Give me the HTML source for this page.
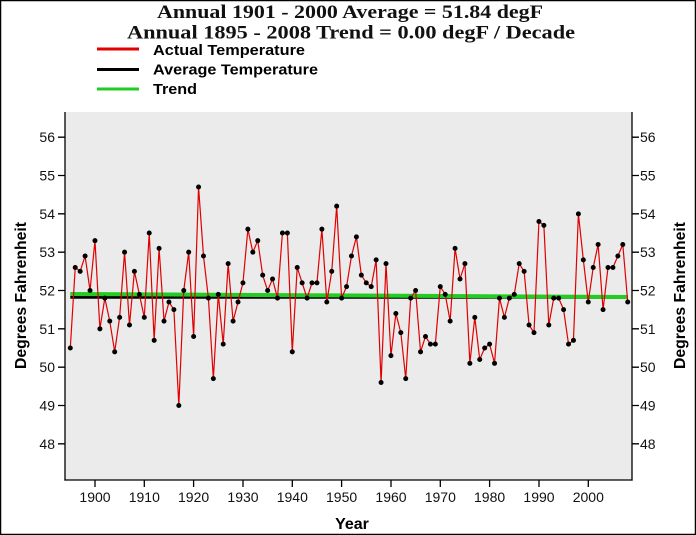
<!DOCTYPE html>
<html>
<head>
<meta charset="utf-8">
<style>
html,body{margin:0;padding:0;background:#fff;}
svg{display:block;}
</style>
</head>
<body>
<svg width="696" height="535" viewBox="0 0 696 535" xmlns="http://www.w3.org/2000/svg">
<rect x="0" y="0" width="696" height="535" fill="#ffffff"/>
<rect x="0.5" y="0.5" width="695" height="534" fill="none" stroke="#000" stroke-width="1.5"/>

<!-- Title -->
<g font-family="'Liberation Serif', serif" font-weight="bold" font-size="19" fill="#111">
<text x="157" y="18" textLength="386" lengthAdjust="spacingAndGlyphs">Annual 1901 - 2000 Average = 51.84 degF</text>
<text x="127" y="38.5" textLength="448" lengthAdjust="spacingAndGlyphs">Annual 1895 - 2008 Trend = 0.00 degF / Decade</text>
</g>

<!-- Legend -->
<line x1="97" y1="49" x2="139" y2="49" stroke="#e00000" stroke-width="3"/>
<line x1="97" y1="69.5" x2="139" y2="69.5" stroke="#000" stroke-width="3"/>
<line x1="97" y1="89" x2="139" y2="89" stroke="#22cc22" stroke-width="3"/>
<g font-family="'Liberation Sans', sans-serif" font-weight="bold" font-size="15" fill="#000">
<text x="153" y="55" textLength="152" lengthAdjust="spacingAndGlyphs">Actual Temperature</text>
<text x="153" y="74.5" textLength="165" lengthAdjust="spacingAndGlyphs">Average Temperature</text>
<text x="153" y="94" textLength="44" lengthAdjust="spacingAndGlyphs">Trend</text>
</g>

<!-- Plot background -->
<rect x="65" y="112" width="567" height="368" fill="#ebebeb"/>

<!-- Average & trend lines -->
<line x1="70.3" y1="297.3" x2="627.8" y2="297.3" stroke="#000" stroke-width="3"/>
<line x1="70.3" y1="294" x2="627.8" y2="297" stroke="#22cc22" stroke-width="4"/>

<!-- Data -->
<g transform="matrix(4.933 0 0 -38.33 70.3 2283.66)">
<polyline fill="none" stroke="#e00000" stroke-width="1.2" vector-effect="non-scaling-stroke" stroke-linejoin="round"
points="0,50.5 1,52.6 2,52.5 3,52.9 4,52.0 5,53.3 6,51.0 7,51.8 8,51.2 9,50.4 10,51.3 11,53.0 12,51.1 13,52.5 14,51.9 15,51.3 16,53.5 17,50.7 18,53.1 19,51.2 20,51.7 21,51.5 22,49.0 23,52.0 24,53.0 25,50.8 26,54.7 27,52.9 28,51.8 29,49.7 30,51.9 31,50.6 32,52.7 33,51.2 34,51.7 35,52.2 36,53.6 37,53.0 38,53.3 39,52.4 40,52.0 41,52.3 42,51.8 43,53.5 44,53.5 45,50.4 46,52.6 47,52.2 48,51.8 49,52.2 50,52.2 51,53.6 52,51.7 53,52.5 54,54.2 55,51.8 56,52.1 57,52.9 58,53.4 59,52.4 60,52.2 61,52.1 62,52.8 63,49.6 64,52.7 65,50.3 66,51.4 67,50.9 68,49.7 69,51.8 70,52.0 71,50.4 72,50.8 73,50.6 74,50.6 75,52.1 76,51.9 77,51.2 78,53.1 79,52.3 80,52.7 81,50.1 82,51.3 83,50.2 84,50.5 85,50.6 86,50.1 87,51.8 88,51.3 89,51.8 90,51.9 91,52.7 92,52.5 93,51.1 94,50.9 95,53.8 96,53.7 97,51.1 98,51.8 99,51.8 100,51.5 101,50.6 102,50.7 103,54.0 104,52.8 105,51.7 106,52.6 107,53.2 108,51.5 109,52.6 110,52.6 111,52.9 112,53.2 113,51.7"/>
<path fill="none" stroke="#000" stroke-width="5" stroke-linecap="round" vector-effect="non-scaling-stroke"
d="M0 50.5h0M1 52.6h0M2 52.5h0M3 52.9h0M4 52.0h0M5 53.3h0M6 51.0h0M7 51.8h0M8 51.2h0M9 50.4h0M10 51.3h0M11 53.0h0M12 51.1h0M13 52.5h0M14 51.9h0M15 51.3h0M16 53.5h0M17 50.7h0M18 53.1h0M19 51.2h0M20 51.7h0M21 51.5h0M22 49.0h0M23 52.0h0M24 53.0h0M25 50.8h0M26 54.7h0M27 52.9h0M28 51.8h0M29 49.7h0M30 51.9h0M31 50.6h0M32 52.7h0M33 51.2h0M34 51.7h0M35 52.2h0M36 53.6h0M37 53.0h0M38 53.3h0M39 52.4h0M40 52.0h0M41 52.3h0M42 51.8h0M43 53.5h0M44 53.5h0M45 50.4h0M46 52.6h0M47 52.2h0M48 51.8h0M49 52.2h0M50 52.2h0M51 53.6h0M52 51.7h0M53 52.5h0M54 54.2h0M55 51.8h0M56 52.1h0M57 52.9h0M58 53.4h0M59 52.4h0M60 52.2h0M61 52.1h0M62 52.8h0M63 49.6h0M64 52.7h0M65 50.3h0M66 51.4h0M67 50.9h0M68 49.7h0M69 51.8h0M70 52.0h0M71 50.4h0M72 50.8h0M73 50.6h0M74 50.6h0M75 52.1h0M76 51.9h0M77 51.2h0M78 53.1h0M79 52.3h0M80 52.7h0M81 50.1h0M82 51.3h0M83 50.2h0M84 50.5h0M85 50.6h0M86 50.1h0M87 51.8h0M88 51.3h0M89 51.8h0M90 51.9h0M91 52.7h0M92 52.5h0M93 51.1h0M94 50.9h0M95 53.8h0M96 53.7h0M97 51.1h0M98 51.8h0M99 51.8h0M100 51.5h0M101 50.6h0M102 50.7h0M103 54.0h0M104 52.8h0M105 51.7h0M106 52.6h0M107 53.2h0M108 51.5h0M109 52.6h0M110 52.6h0M111 52.9h0M112 53.2h0M113 51.7h0"/>
</g>

<!-- Axes -->
<g stroke="#000" stroke-width="1.3" fill="none">
<line x1="65" y1="112" x2="65" y2="480.6"/>
<line x1="632" y1="112" x2="632" y2="480.6"/>
<line x1="64.4" y1="480" x2="632.6" y2="480"/>
<!-- left ticks -->
<path d="M58 137.2H65M58 175.5H65M58 213.8H65M58 252.2H65M58 290.5H65M58 328.8H65M58 367.2H65M58 405.5H65M58 443.8H65"/>
<!-- right ticks -->
<path d="M632 137.2H639M632 175.5H639M632 213.8H639M632 252.2H639M632 290.5H639M632 328.8H639M632 367.2H639M632 405.5H639M632 443.8H639"/>
<!-- x ticks -->
<path d="M95 480V487M144.3 480V487M193.6 480V487M243 480V487M292.3 480V487M341.6 480V487M391 480V487M440.3 480V487M489.6 480V487M539 480V487M588.3 480V487"/>
</g>

<g font-family="'Liberation Sans', sans-serif" font-size="14" fill="#111">
<g text-anchor="end">
<text x="55" y="142.2">56</text>
<text x="55" y="180.5">55</text>
<text x="55" y="218.8">54</text>
<text x="55" y="257.2">53</text>
<text x="55" y="295.5">52</text>
<text x="55" y="333.8">51</text>
<text x="55" y="372.2">50</text>
<text x="55" y="410.5">49</text>
<text x="55" y="448.8">48</text>
</g>
<g text-anchor="start">
<text x="640" y="142.2">56</text>
<text x="640" y="180.5">55</text>
<text x="640" y="218.8">54</text>
<text x="640" y="257.2">53</text>
<text x="640" y="295.5">52</text>
<text x="640" y="333.8">51</text>
<text x="640" y="372.2">50</text>
<text x="640" y="410.5">49</text>
<text x="640" y="448.8">48</text>
</g>
<g text-anchor="middle">
<text x="95" y="502">1900</text>
<text x="144.3" y="502">1910</text>
<text x="193.6" y="502">1920</text>
<text x="243" y="502">1930</text>
<text x="292.3" y="502">1940</text>
<text x="341.6" y="502">1950</text>
<text x="391" y="502">1960</text>
<text x="440.3" y="502">1970</text>
<text x="489.6" y="502">1980</text>
<text x="539" y="502">1990</text>
<text x="588.3" y="502">2000</text>
</g>
</g>

<!-- Axis titles -->
<g font-family="'Liberation Sans', sans-serif" font-weight="bold" font-size="16" fill="#000">
<text x="352" y="529" text-anchor="middle">Year</text>
<text transform="translate(26,369) rotate(-90)" textLength="147" lengthAdjust="spacingAndGlyphs">Degrees Fahrenheit</text>
<text transform="translate(685,369) rotate(-90)" textLength="147" lengthAdjust="spacingAndGlyphs">Degrees Fahrenheit</text>
</g>
</svg>
</body>
</html>
